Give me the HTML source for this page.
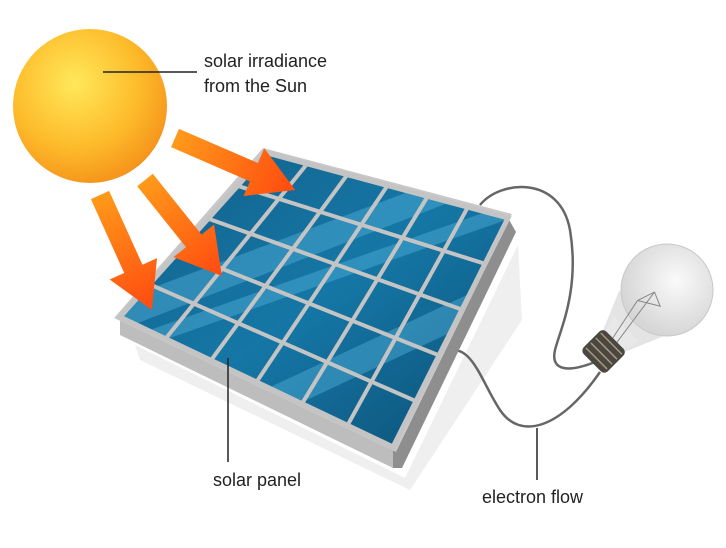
<!DOCTYPE html>
<html><head><style>body{margin:0;background:#fff}svg{display:block}</style></head>
<body>
<svg width="726" height="548" viewBox="0 0 726 548" xmlns="http://www.w3.org/2000/svg" font-family="Liberation Sans, sans-serif">
<defs>
<radialGradient id="sun" cx="0.4" cy="0.35" r="0.7">
<stop offset="0" stop-color="#ffe85a"/><stop offset="0.6" stop-color="#fdbb2a"/><stop offset="1" stop-color="#f5901a"/></radialGradient>
<linearGradient id="arr" x1="0" y1="0" x2="1" y2="0"><stop offset="0" stop-color="#ff9a1a"/><stop offset="1" stop-color="#ff4a10"/></linearGradient>
<linearGradient id="cell" x1="0" y1="0" x2="1" y2="1"><stop offset="0" stop-color="#145f88"/><stop offset="0.5" stop-color="#1577a6"/><stop offset="1" stop-color="#0c4f74"/></linearGradient>
<radialGradient id="bulb" cx="0.6" cy="0.4" r="0.6"><stop offset="0" stop-color="#fafafa"/><stop offset="1" stop-color="#d6d6d6"/></radialGradient>
<clipPath id="surf"><polygon points="267,153 508,218 393,447 120,317"/></clipPath>
</defs>
<polygon points="135,345 405,478 518,245 522,320 410,490 140,360" fill="#efefef"/>
<path d="M480,205 C500,180 560,175 570,230 C580,290 560,330 555,350 C550,372 570,372 595,362" fill="none" stroke="#666" stroke-width="2.5"/>
<path d="M440,355 C470,335 480,380 500,410 C520,440 560,430 600,372" fill="none" stroke="#666" stroke-width="2.5"/>
<polygon points="120,317 393,447 393,468 120,335" fill="#bdbdbd"/>
<polygon points="393,447 508,218 516,232 402,468 393,468" fill="#8e8e8e"/>
<polygon points="263,148 512,214 396,452 114,318" fill="#c8c8c8"/>
<polygon points="267,153 508,218 393,447 120,317" fill="url(#cell)"/>
<g clip-path="url(#surf)" fill="#5ab8e0" opacity="0.4">
<polygon points="120,300 520,150 520,175 120,330"/>
<polygon points="150,330 520,200 520,215 150,345"/>
<polygon points="200,420 520,270 520,300 200,450"/>
</g>
<g stroke="#c4c4c4" stroke-width="4">
<line x1="307.2" y1="163.8" x2="165.5" y2="338.7"/>
<line x1="347.3" y1="174.7" x2="211" y2="360.3"/>
<line x1="387.5" y1="185.5" x2="256.5" y2="382"/>
<line x1="427.7" y1="196.3" x2="302" y2="403.7"/>
<line x1="467.8" y1="207.2" x2="347.5" y2="425.3"/>
<line x1="237.6" y1="185.8" x2="485" y2="263.8"/>
<line x1="208.2" y1="218.6" x2="462" y2="309.6"/>
<line x1="178.8" y1="251.4" x2="439" y2="355.4"/>
<line x1="149.4" y1="284.2" x2="416" y2="401.2"/>
</g>
<polygon points="267,153 508,218 393,447 120,317" fill="none" stroke="#c4c4c4" stroke-width="5"/>
<circle cx="90" cy="106" r="77" fill="url(#sun)"/>
<g fill="url(#arr)">
<polygon transform="translate(175,138) rotate(23.4)" points="0,-10 86,-10 86,-26 131,0 86,26 86,10 0,10"/>
<polygon transform="translate(100,195) rotate(65.7)" points="0,-10 81,-10 81,-26 126,0 81,26 81,10 0,10"/>
<polygon transform="translate(145,180) rotate(51.3)" points="0,-10 78,-10 78,-26 123,0 78,26 78,10 0,10"/>
</g>
<g transform="translate(605,350) rotate(-45)">
<polygon points="12,-15 12,15 52,32 52,-32" fill="#e4e4e4"/>
</g>
<circle cx="667" cy="290" r="46" fill="url(#bulb)" stroke="#c8c8c8"/>
<g transform="translate(605,350) rotate(-45)">
<polygon points="12,-13 12,13 30,18 30,-18" fill="#e8e8e8"/>
<path d="M14,-3 L58,-12 L76,-6 L70,8 L58,-12 M14,3 L76,-6" fill="none" stroke="#888" stroke-width="1"/>
<rect x="-18" y="-17" width="32" height="34" rx="5" fill="#4a4640"/>
<g stroke="#a89a80" stroke-width="1.5"><line x1="-12" y1="-15" x2="-12" y2="15"/><line x1="-5" y1="-15" x2="-5" y2="15"/><line x1="2" y1="-15" x2="2" y2="15"/><line x1="9" y1="-15" x2="9" y2="15"/></g>
</g>
<g stroke="#222" stroke-width="1.5">
<line x1="103" y1="72" x2="197" y2="72"/>
<line x1="228" y1="358" x2="228" y2="462"/>
<line x1="537" y1="428" x2="537" y2="480"/>
</g>
<g fill="#222" font-size="18">
<text x="204" y="67">solar irradiance</text>
<text x="204" y="92">from the Sun</text>
<text x="213" y="486">solar panel</text>
<text x="482" y="503">electron flow</text>
</g>
</svg>
</body></html>
